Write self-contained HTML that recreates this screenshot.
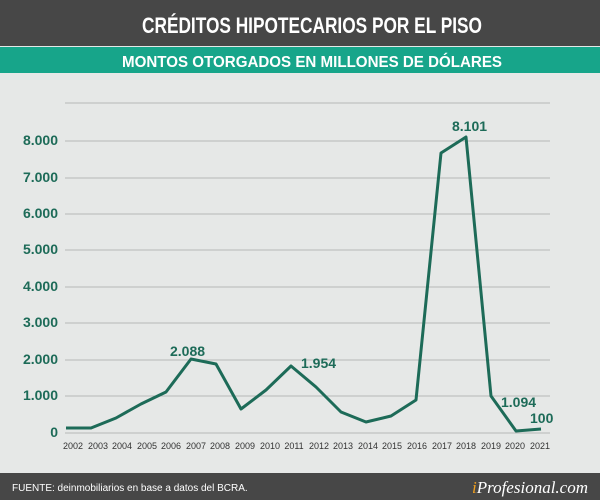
<!DOCTYPE html>
<html><head><meta charset="utf-8"><style>
body{margin:0;width:600px;height:500px;overflow:hidden;background:#e6e8e7;font-family:"Liberation Sans",sans-serif}
</style></head><body>
<svg width="600" height="500" xmlns="http://www.w3.org/2000/svg" style="display:block">
<rect x="0" y="0" width="600" height="500" fill="#e6e8e7"/>
<rect x="0" y="0" width="600" height="46" fill="#474747"/>
<text x="312" y="33" fill="#fff" font-size="22" font-weight="bold" text-anchor="middle" textLength="340" lengthAdjust="spacingAndGlyphs">CRÉDITOS HIPOTECARIOS POR EL PISO</text>
<rect x="0" y="47" width="600" height="26" fill="#17a58a"/>
<text x="312" y="67" fill="#fff" font-size="16" font-weight="bold" text-anchor="middle" textLength="380" lengthAdjust="spacingAndGlyphs">MONTOS OTORGADOS EN MILLONES DE DÓLARES</text>
<g stroke="#b5b8b7" stroke-width="1">
<line x1="65" y1="103" x2="550" y2="103"/>
<line x1="65" y1="141" x2="550" y2="141"/>
<line x1="65" y1="178" x2="550" y2="178"/>
<line x1="65" y1="214" x2="550" y2="214"/>
<line x1="65" y1="250" x2="550" y2="250"/>
<line x1="65" y1="287" x2="550" y2="287"/>
<line x1="65" y1="323" x2="550" y2="323"/>
<line x1="65" y1="360" x2="550" y2="360"/>
<line x1="65" y1="396" x2="550" y2="396"/>
<line x1="65" y1="433" x2="550" y2="433"/>
</g>
<g fill="#1d6b58" font-size="14" font-weight="bold" text-anchor="end">
<text x="58" y="145">8.000</text><text x="58" y="182">7.000</text><text x="58" y="218">6.000</text>
<text x="58" y="254">5.000</text><text x="58" y="291">4.000</text><text x="58" y="327">3.000</text>
<text x="58" y="364">2.000</text><text x="58" y="400">1.000</text><text x="58" y="437">0</text>
</g>
<polyline fill="none" stroke="#1d6b58" stroke-width="3" stroke-linejoin="round" points="66,428 91,428 116,418 141,404 166,392 191,359 216,364 241,409 266,390 291,366 316,387 341,412 366,422 391,416 416,400 441,153 466,137 491,396 516,431 541,429"/>
<g fill="#1d6b58" font-size="14" font-weight="bold">
<text x="170" y="356">2.088</text><text x="301" y="368">1.954</text>
<text x="452" y="131">8.101</text><text x="501" y="407">1.094</text><text x="530" y="423">100</text>
</g>
<g fill="#333" font-size="9" text-anchor="middle">
<text x="73" y="449">2002</text><text x="98" y="449">2003</text><text x="122" y="449">2004</text><text x="147" y="449">2005</text>
<text x="171" y="449">2006</text><text x="196" y="449">2007</text><text x="220" y="449">2008</text><text x="245" y="449">2009</text>
<text x="270" y="449">2010</text><text x="294" y="449">2011</text><text x="319" y="449">2012</text><text x="343" y="449">2013</text>
<text x="368" y="449">2014</text><text x="392" y="449">2015</text><text x="417" y="449">2016</text><text x="442" y="449">2017</text>
<text x="466" y="449">2018</text><text x="491" y="449">2019</text><text x="515" y="449">2020</text><text x="540" y="449">2021</text>
</g>
<rect x="0" y="473" width="600" height="27" fill="#474747"/>
<text x="12" y="491" fill="#fff" font-size="10">FUENTE: deinmobiliarios en base a datos del BCRA.</text>
<text x="588" y="493" fill="#fff" font-size="17" font-style="italic" font-family="Liberation Serif,serif" text-anchor="end"><tspan fill="#f0a020">i</tspan>Profesional.com</text>
</svg>
</body></html>
